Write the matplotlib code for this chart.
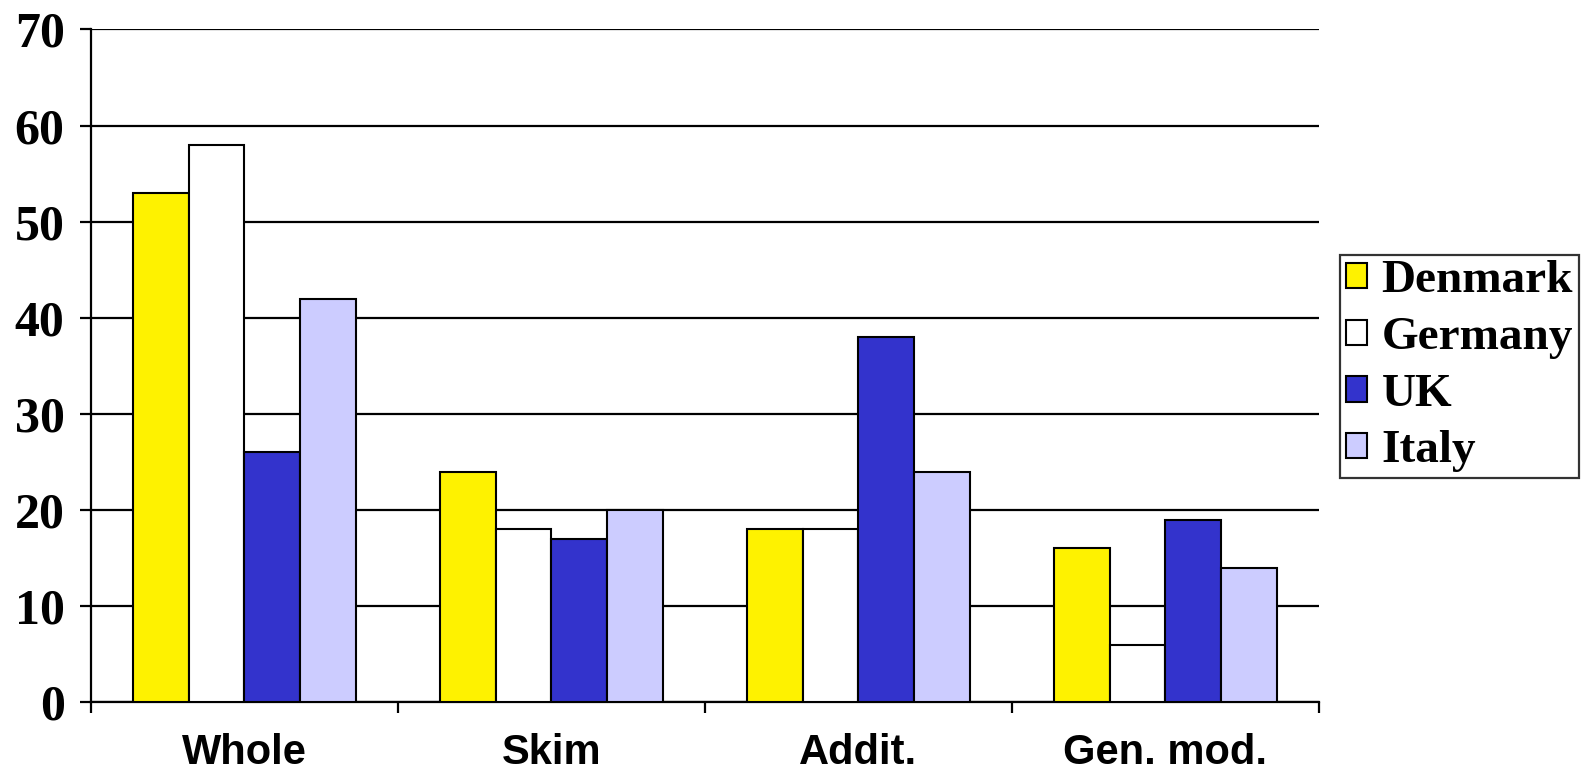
#!/usr/bin/env python

import numpy as np
import matplotlib
matplotlib.use('Agg')
import matplotlib.pyplot as plt
from matplotlib.patches import Patch

categories = ["Whole", "Skim", "Addit.", "Gen. mod."]
countries = ["Denmark", "Germany", "UK", "Italy"]
denmark = [53, 24, 18, 16]
germany = [58, 18, 18, 6]
uk = [26, 17, 38, 19]
italy = [42, 20, 24, 14]
yticks = [0, 10, 20, 30, 40, 50, 60, 70]

colors = ["#FEF200", "#FFFFFF", "#3333CC", "#CCCCFF"]
series = [denmark, germany, uk, italy]

fig = plt.figure(figsize=(15.91, 7.73), dpi=100)
ax = fig.add_axes([0.0572, 0.0915, 0.7718, 0.8705])

x = np.arange(len(categories))
w = 0.181
for i, (vals, c) in enumerate(zip(series, colors)):
	ax.bar(x + (i - 1.5) * w, vals, width=w, color=c, edgecolor="black",
		linewidth=1.5, zorder=3)

ax.set_xlim(-0.5, len(categories) - 0.5)
ax.set_ylim(0, 70)
ax.set_yticks(yticks)
ax.set_yticklabels([str(v) for v in yticks], fontfamily="Liberation Serif",
	fontweight="bold", fontsize=36)
ax.yaxis.grid(True, color="black", linewidth=1.6, zorder=0)
ax.set_axisbelow(True)

# category names sit between the boundary ticks
ax.set_xticks(x)
ax.set_xticklabels(categories, fontfamily="Liberation Sans", fontweight="bold",
	fontsize=30)
ax.set_xticks(np.arange(-0.5, len(categories) + 0.5, 1), minor=True)
ax.tick_params(axis="x", which="major", length=0, pad=22)
ax.tick_params(axis="x", which="minor", length=8, width=1.6, direction="out")
ax.tick_params(axis="y", length=8, width=1.6, direction="out", pad=11)

for s in ["top", "right"]:
	ax.spines[s].set_visible(False)
for s in ["left", "bottom"]:
	ax.spines[s].set_linewidth(1.6)

handles = [Patch(facecolor=c, edgecolor="black", linewidth=1.5) for c in colors]
leg = fig.legend(handles, countries, loc="center left",
	bbox_to_anchor=(0.8425, 0.526), frameon=True, fancybox=False,
	prop={"family": "Liberation Serif", "weight": "bold", "size": 34},
	handlelength=0.45, handleheight=0.45, handletextpad=0.3,
	labelspacing=0.31, borderpad=0.12, borderaxespad=0)
leg.get_frame().set_edgecolor("black")
leg.get_frame().set_linewidth(1.6)

fig.savefig("out.png", dpi=100)
